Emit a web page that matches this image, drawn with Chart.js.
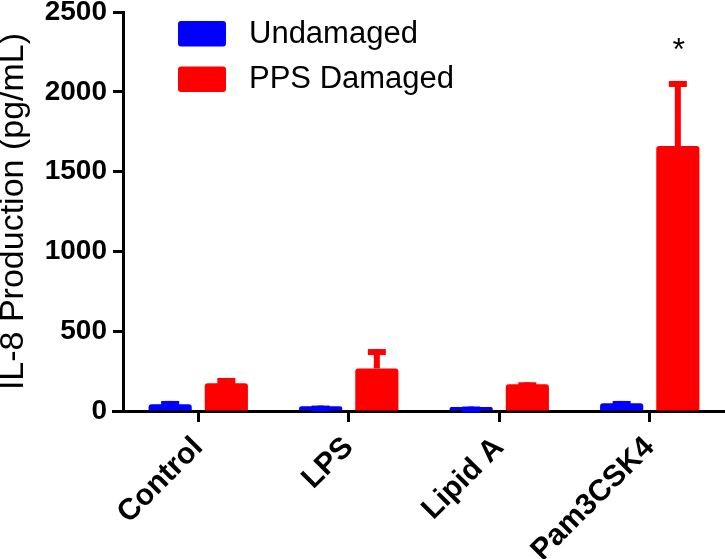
<!DOCTYPE html>
<html><head><meta charset="utf-8">
<script src="https://cdn.jsdelivr.net/npm/chart.js@4.4.0/dist/chart.umd.min.js"></script>
<style>html,body{margin:0;padding:0;background:#fff}#wrap{width:725px;height:559px}</style>
</head><body><div id="wrap"><canvas id="c" width="725" height="559"></canvas></div>
<script>
const categories = ['Control', 'LPS', 'Lipid A', 'Pam3CSK4'];
const seriesNames = ['Undamaged', 'PPS Damaged'];
const undamaged = [42, 30, 25, 48];
const undamagedErr = [21, 4, 3, 15];
const damaged = [174, 267, 167, 1660];
const damagedErr = [33, 121, 13, 408];
const significance = ['', '', '', '*'];
const yTicks = [0, 500, 1000, 1500, 2000, 2500];
const yTitle = 'IL-8 Production (pg/mL)';

const FONT = "'Liberation Sans', Arial, Helvetica, sans-serif";
const errors = [undamagedErr, damagedErr];

const errorBarPlugin = {
  id: 'errorBars',
  afterDatasetsDraw(chart) {
    const ctx = chart.ctx;
    const ys = chart.scales.y;
    chart.data.datasets.forEach((ds, i) => {
      const meta = chart.getDatasetMeta(i);
      meta.data.forEach((bar, j) => {
        const v = ds.data[j], e = errors[i][j];
        if (!e) return;
        const yTop = ys.getPixelForValue(v + e);
        ctx.save();
        ctx.fillStyle = ds.backgroundColor;
        ctx.fillRect(bar.x - 3, yTop, 6, bar.y - yTop);
        ctx.fillRect(bar.x - 9, yTop, 18, 6);
        ctx.restore();
      });
    });
    const meta = chart.getDatasetMeta(1);
    meta.data.forEach((bar, j) => {
      if (!significance[j]) return;
      const top = ys.getPixelForValue(damaged[j] + damagedErr[j]);
      ctx.save();
      ctx.fillStyle = '#000';
      ctx.font = '32px ' + FONT;
      ctx.textAlign = 'center';
      ctx.textBaseline = 'alphabetic';
      ctx.fillText(significance[j], bar.x + 1, top - 21);
      ctx.restore();
    });
  },
  afterDraw(chart) {
    const ctx = chart.ctx, a = chart.chartArea;
    ctx.save();
    ctx.strokeStyle = '#000';
    ctx.lineWidth = 3;
    ctx.beginPath();
    ctx.moveTo(a.left - 11, a.bottom + 0.5);
    ctx.lineTo(a.left, a.bottom + 0.5);
    ctx.stroke();
    ctx.font = '31px ' + FONT;
    ctx.textBaseline = 'middle';
    ctx.textAlign = 'left';
    chart.data.datasets.forEach((ds, i) => {
      const bx = a.left + 55, by = a.top + 9 + i * 45.5;
      ctx.fillStyle = ds.backgroundColor;
      ctx.beginPath();
      ctx.roundRect(bx, by, 48, 25.5, 3);
      ctx.fill();
      ctx.fillStyle = '#000';
      ctx.fillText(ds.label, bx + 71, by + 13);
    });
    ctx.restore();
  }
};

new Chart(document.getElementById('c'), {
  type: 'bar',
  data: {
    labels: categories,
    datasets: [
      { label: seriesNames[0], data: undamaged, backgroundColor: '#0000FF', borderRadius: 3, borderSkipped: 'start' },
      { label: seriesNames[1], data: damaged, backgroundColor: '#FF0000', borderRadius: 3, borderSkipped: 'start' }
    ]
  },
  options: {
    responsive: false,
    animation: false,
    devicePixelRatio: 1,
    categoryPercentage: 0.7467,
    barPercentage: 0.768,
    layout: { padding: { left: 0, right: 0, top: 0, bottom: 0 } },
    plugins: { legend: { display: false }, tooltip: { enabled: false } },
    scales: {
      x: {
        offset: true,
        grid: { display: true, offset: false, drawOnChartArea: false, drawTicks: true, tickLength: 11, tickWidth: 3, tickColor: '#000' },
        border: { display: true, width: 3, color: '#000' },
        ticks: { color: '#000', maxRotation: 45, minRotation: 45, padding: 8,
          font: { family: FONT, size: 30, weight: 'bold', lineHeight: 1.2 } },
        afterFit: s => { s.height = 148; }
      },
      y: {
        min: 0, max: 2500,
        afterBuildTicks: s => { s.ticks = yTicks.map(v => ({ value: v })); },
        grid: { display: true, drawOnChartArea: false, drawTicks: true, tickLength: 10, tickWidth: 3, tickColor: '#000' },
        border: { display: true, width: 3, color: '#000' },
        ticks: { color: '#000', padding: 6, callback: v => String(v),
          font: { family: FONT, size: 28, weight: 'bold', lineHeight: 0.43 } },
        title: { display: true, text: yTitle, color: '#000', padding: 0,
          font: { family: FONT, size: 34, weight: 'normal', lineHeight: 0.8 } },
        afterFit: s => { s.width = 123; }
      }
    }
  },
  plugins: [errorBarPlugin]
});
</script>
</body></html>
